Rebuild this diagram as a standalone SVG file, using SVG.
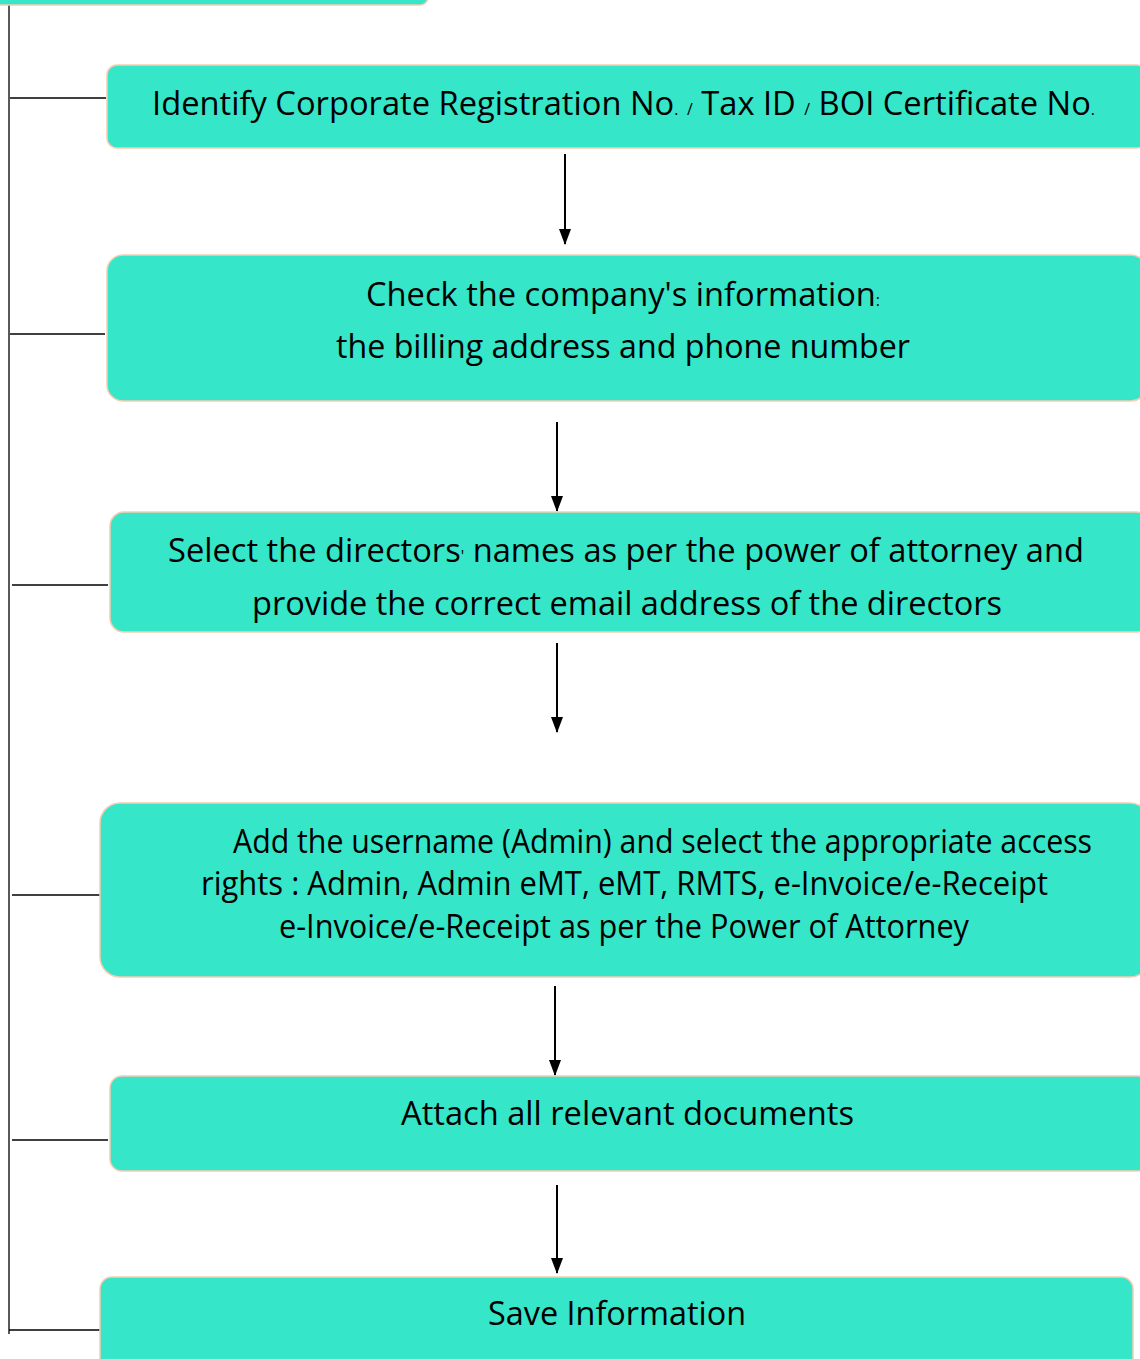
<svg xmlns="http://www.w3.org/2000/svg" width="1140" height="1359" viewBox="0 0 1140 1359">
<style>
.box{fill:#35E6C9;stroke:#F6CDB0;stroke-width:1.5}
.t{font-family:"Open Sans","Noto Sans","Liberation Sans",sans-serif;font-size:33px;fill:#000}
.s{font-size:16px}
.ln{stroke:#000;stroke-width:1.3;fill:none}
.ar{stroke:#000;stroke-width:2;fill:none}
</style>
<defs>
<marker id="ah2" viewBox="0 0 16 12" markerWidth="16" markerHeight="12" refX="15" refY="6" orient="auto" markerUnits="userSpaceOnUse">
<path d="M0,0 L16,6 L0,12 z" fill="#000"/>
</marker>
</defs>
<rect width="1140" height="1359" fill="#fff"/>
<g id="connectors">
<line class="ln" x1="9" y1="4" x2="9" y2="1334"/>
<line class="ln" x1="10" y1="98" x2="106" y2="98"/>
<line class="ln" x1="10" y1="334" x2="105" y2="334"/>
<line class="ln" x1="12" y1="585" x2="108" y2="585"/>
<line class="ln" x1="12" y1="895" x2="108" y2="895"/>
<line class="ln" x1="12" y1="1140" x2="108" y2="1140"/>
<line class="ln" x1="9" y1="1330" x2="105" y2="1330"/>
<line class="ar" x1="565" y1="154" x2="565" y2="244" marker-end="url(#ah2)"/>
<line class="ar" x1="557" y1="422" x2="557" y2="511" marker-end="url(#ah2)"/>
<line class="ar" x1="557" y1="643" x2="557" y2="732" marker-end="url(#ah2)"/>
<line class="ar" x1="555" y1="986" x2="555" y2="1075" marker-end="url(#ah2)"/>
<line class="ar" x1="557" y1="1185" x2="557" y2="1273" marker-end="url(#ah2)"/>
</g>
<g id="node0">
<rect class="box" x="-30" y="-30" width="458" height="35" rx="8"/>
</g>
<g id="node1">
<rect class="box" x="107" y="65" width="1040" height="83" rx="10"/>
<text class="t" x="152" y="115" textLength="943" lengthAdjust="spacingAndGlyphs">Identify Corporate Registration No<tspan class="s">.</tspan> <tspan class="s">/</tspan> Tax ID <tspan class="s">/</tspan> BOI Certificate No<tspan class="s">.</tspan></text>
</g>
<g id="node2">
<rect class="box" x="107" y="255" width="1040" height="146" rx="16"/>
<text class="t" x="366" y="306" textLength="514" lengthAdjust="spacingAndGlyphs">Check the company's information<tspan class="s">:</tspan></text>
<text class="t" x="336" y="358" textLength="574" lengthAdjust="spacingAndGlyphs">the billing address and phone number</text>
</g>
<g id="node3">
<rect class="box" x="110" y="512" width="1040" height="120" rx="14"/>
<text class="t" x="168" y="562" textLength="916" lengthAdjust="spacingAndGlyphs">Select the directors<tspan class="s">'</tspan> names as per the power of attorney and</text>
<text class="t" x="252" y="615" textLength="750" lengthAdjust="spacingAndGlyphs">provide the correct email address of the directors</text>
</g>
<g id="node4">
<rect class="box" x="100" y="803" width="1050" height="174" rx="20"/>
<text class="t" x="233" y="853" textLength="859" lengthAdjust="spacingAndGlyphs">Add the username (Admin) and select the appropriate access</text>
<text class="t" x="201" y="895" textLength="847" lengthAdjust="spacingAndGlyphs">rights : Admin, Admin eMT, eMT, RMTS, e-Invoice/e-Receipt</text>
<text class="t" x="279" y="938" textLength="690" lengthAdjust="spacingAndGlyphs">e-Invoice/e-Receipt as per the Power of Attorney</text>
</g>
<g id="node5">
<rect class="box" x="110" y="1076" width="1040" height="95" rx="12"/>
<text class="t" x="401" y="1125" textLength="453" lengthAdjust="spacingAndGlyphs">Attach all relevant documents</text>
</g>
<g id="node6">
<rect class="box" x="100" y="1277" width="1033" height="110" rx="12"/>
<text class="t" x="488" y="1325" textLength="258" lengthAdjust="spacingAndGlyphs">Save Information</text>
</g>
</svg>
